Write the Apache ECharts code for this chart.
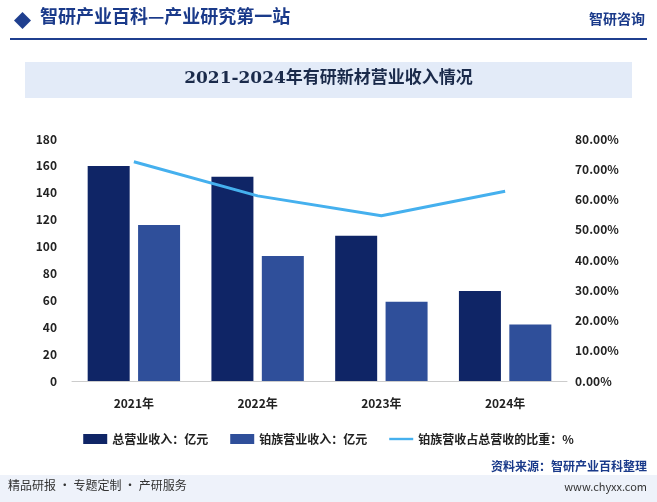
<!DOCTYPE html>
<html><head><meta charset="utf-8">
<script src="https://cdn.jsdelivr.net/npm/echarts@6/dist/echarts.min.js"></script>
<style>html,body{margin:0;padding:0;background:#fff}#c{width:657px;height:502px}</style>
</head><body><div id="c"></div>
<script>
const categories=['2021年','2022年','2023年','2024年'];
const totalRevenue=[160,152,108,67];
const ptRevenue=[116,93,59,42];
const ptRatio=[72.5,61.2,54.6,62.7];
const chart=echarts.init(document.getElementById('c'));
const F='"Noto Sans CJK SC","Noto Sans",sans-serif';
chart.setOption({
  animation:false,
  textStyle:{fontFamily:F},
  graphic:[
    {type:'rect',left:14,top:12,shape:{width:12,height:12},rotation:Math.PI/4,style:{fill:'#1f3f8f'}},
    {type:'text',left:40,top:7,style:{text:'智研产业百科—产业研究第一站',fill:'#1a3a8a',font:'bold 18px '+F}},
    {type:'text',right:12,top:12,style:{text:'智研咨询',fill:'#1a3a8a',font:'bold 14px '+F}},
    {type:'rect',left:10,top:38,shape:{width:637,height:2},style:{fill:'#1f3f8f'}},
    {type:'rect',left:25,top:62,shape:{width:607,height:36},style:{fill:'#e3ebf8'}},
    {type:'text',left:'center',top:70,style:{text:'2021-2024年有研新材营业收入情况',fill:'#1a2a4a',font:'bold 17px "DejaVu Serif","Noto Sans CJK SC",serif'}},
    {type:'rect',left:0,top:475,shape:{width:657,height:27},style:{fill:'#eef2fa'}},
    {type:'text',left:8,top:479,style:{text:'精品研报 · 专题定制 · 产研服务',fill:'#333',font:'12px '+F}},
    {type:'text',right:10,top:460,style:{text:'资料来源：智研产业百科整理',fill:'#1a3a8a',font:'bold 12px '+F}},
    {type:'text',right:10,top:481,style:{text:'www.chyxx.com',fill:'#333',font:'11px '+F}}
  ],
  legend:{top:428,left:'center',itemGap:22,textStyle:{fontSize:12,fontWeight:'bold',color:'#222'},
    data:[{name:'总营业收入：亿元',icon:'rect'},{name:'铂族营业收入：亿元',icon:'rect'},{name:'铂族营收占总营收的比重：%',icon:'path://M0,0 L30,0 L30,3 L0,3 Z'}],itemWidth:24,itemHeight:10},
  grid:{left:72,right:90,top:139,bottom:121},
  xAxis:{type:'category',data:categories,axisTick:{show:false},axisLine:{lineStyle:{color:'#ccc'}},
    axisLabel:{color:'#222',fontWeight:'bold',fontSize:12,margin:16}},
  yAxis:[{type:'value',min:0,max:180,interval:20,splitLine:{show:false},axisLabel:{color:'#222',fontWeight:'bold',fontSize:12,margin:15}},
    {type:'value',min:0,max:80,interval:10,splitLine:{show:false},axisLabel:{color:'#222',fontWeight:'bold',fontSize:12,formatter:v=>v.toFixed(2)+'%',margin:8}}],
  series:[
    {name:'总营业收入：亿元',type:'bar',data:totalRevenue,barWidth:42,barGap:'20%',itemStyle:{color:'#0f2566'}},
    {name:'铂族营业收入：亿元',type:'bar',data:ptRevenue,barWidth:42,itemStyle:{color:'#2f4f9a'}},
    {name:'铂族营收占总营收的比重：%',type:'line',yAxisIndex:1,data:ptRatio,symbol:'none',lineStyle:{color:'#45b0ee',width:3},itemStyle:{color:'#45b0ee'}}
  ]
});
</script></body></html>
